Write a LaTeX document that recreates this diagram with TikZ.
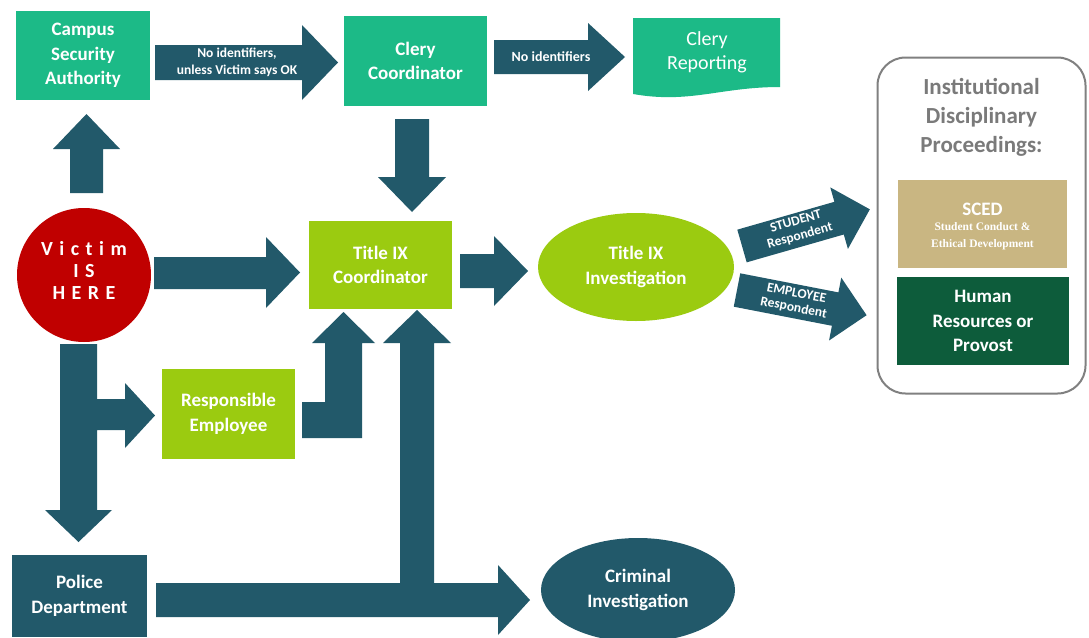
\documentclass[tikz,border=0pt]{standalone}
\usepackage{fontspec}
\setmainfont{Carlito}
\newfontfamily\serifb{Liberation Serif}
\usetikzlibrary{shapes.geometric}
\definecolor{tealc}{HTML}{1CBA87}
\definecolor{arrowc}{HTML}{22596A}
\definecolor{limec}{HTML}{9BCB10}
\definecolor{redc}{HTML}{C00000}
\definecolor{tanc}{HTML}{C9B682}
\definecolor{dgreen}{HTML}{0D5C3B}
\definecolor{grayb}{HTML}{808080}
\definecolor{grayt}{HTML}{7A7A7A}
\newcommand\rotarrow[6]{%
  \fill[arrowc,shift={(#1)},rotate=#2] (0,-#4) -- ({#3-#6},-#4) -- ({#3-#6},-#5) -- (#3,0)
     -- ({#3-#6},#5) -- ({#3-#6},#4) -- (0,#4) -- cycle;}
\newcommand\vk{\kern6.5pt}
\begin{document}
\begin{tikzpicture}[x=1pt,y=-1pt,
  bx/.style={inner sep=0pt, align=center, text=white, font=\fontsize{19}{24.5}\selectfont\bfseries},
  blk/.style={fill=arrowc},
  lbl/.style={inner sep=0pt, align=center, text=white}]
\fill[white] (0,0) rectangle (1089,637);
\useasboundingbox (0,0) rectangle (1089,637);

% ---- boxes ----
\node[bx,fill=tealc,minimum width=134pt,minimum height=89pt] (csa) at (83,55.5) {Campus\\Security\\Authority};
\node[bx,fill=tealc,minimum width=143pt,minimum height=90pt] (clery) at (415.5,61) {Clery\\Coordinator};
\fill[tealc] (633,18) -- (780,18) -- (780,87) .. controls (720,87) and (690,104) .. (633,94) -- cycle;
\node[bx,font=\fontsize{20}{24}\selectfont] (rep) at (707,52) {Clery\\Reporting};
\node[circle,fill=redc,minimum size=134pt,inner sep=0pt] (victim) at (84,275) {};
\node[bx,font=\fontsize{20}{22}\selectfont\bfseries] (victimt) at (84,270)
  {V\vk i\vk c\vk t\vk i\vk m\\I\vk S\\H\vk E\vk R\vk E};
\node[bx,fill=limec,minimum width=143pt,minimum height=88pt] (tix) at (380.5,265) {Title IX\\Coordinator};
\node[ellipse,bx,fill=limec,minimum width=196pt,minimum height=108pt] (inv) at (636,267) {Title IX\\Investigation};
\node[bx,fill=limec,minimum width=133pt,minimum height=90pt] (resp) at (228.5,414) {Responsible\\Employee};
\node[bx,fill=arrowc,minimum width=135pt,minimum height=82pt] (police) at (79.5,596) {Police\\Department};
\node[ellipse,bx,fill=arrowc,minimum width=194pt,minimum height=104pt] (crim) at (638,590) {Criminal\\Investigation};

% ---- institutional box ----
\node[draw=grayb,line width=2pt,rounded corners=28pt,minimum width=208pt,minimum height=336pt] (idp) at (981.5,225.5) {};
\node[align=center,text=grayt,font=\fontsize{23}{29}\selectfont\bfseries] (idpt) at (981.5,117) {Institutional\\Disciplinary\\Proceedings:};
\node[bx,fill=tanc,minimum width=169pt,minimum height=88pt] (sced) at (982.5,224) {};
\node[bx] (scedt) at (982.5,209) {SCED};
\node[lbl,font=\serifb\fontsize{11.5}{17.5}\selectfont\bfseries] (scedsub) at (982.5,236) {Student Conduct \&\\Ethical Development};
\node[bx,fill=dgreen,minimum width=172pt,minimum height=88pt] (hr) at (983,321) {Human\\Resources or\\Provost};

% ---- block arrows ----
\fill[blk] (155,45) -- (302,45) -- (302,25) -- (338,62.5) -- (302,100) -- (302,80) -- (155,80) -- cycle;
\fill[blk] (494,40) -- (588,40) -- (588,23) -- (625,57) -- (588,91) -- (588,74) -- (494,74) -- cycle;
\fill[blk] (70,193) -- (70,149) -- (53,149) -- (86.5,114) -- (120,149) -- (103,149) -- (103,193) -- cycle;
\fill[blk] (395,119) -- (429,119) -- (429,177) -- (446,177) -- (412,212) -- (378,177) -- (395,177) -- cycle;
\fill[blk] (154,257) -- (266,257) -- (266,237) -- (300,272.5) -- (266,308) -- (266,289) -- (154,289) -- cycle;
\fill[blk] (460,254) -- (494,254) -- (494,236) -- (528,271) -- (494,306) -- (494,288) -- (460,288) -- cycle;
\fill[blk] (60,344) -- (97,344) -- (97,399) -- (125,399) -- (125,383) -- (155,415.5) -- (125,448)
   -- (125,430) -- (97,430) -- (97,510) -- (112,510) -- (78.5,542) -- (45,510) -- (60,510) -- cycle;
\fill[blk] (302,402) -- (325,402) -- (325,343) -- (312,343) -- (343.5,312) -- (375,343) -- (362,343)
   -- (362,438) -- (302,438) -- cycle;
\fill[blk] (156,583) -- (400,583) -- (400,343) -- (383,343) -- (417,310) -- (451,343) -- (434,343)
   -- (434,583) -- (498,583) -- (498,565) -- (530,600) -- (498,635) -- (498,617) -- (156,617) -- cycle;
\rotarrow{742,246}{16}{133}{17}{32}{32}
\rotarrow{737,290}{-11}{132}{17}{32}{32}

% ---- arrow labels ----
\node[lbl,font=\fontsize{13.5}{17}\selectfont\bfseries] (lab1) at (237,62.5) {No identifiers,\\unless Victim says OK};
\node[lbl,font=\fontsize{14}{17}\selectfont\bfseries] (lab2) at (551,57) {No identifiers};
\node[lbl,rotate=16,font=\fontsize{13.5}{15}\selectfont\bfseries] (lab3) at (798,229) {STUDENT\\Respondent};
\node[lbl,rotate=-11,font=\fontsize{13.5}{15}\selectfont\bfseries] (lab4) at (795,301) {EMPLOYEE\\Respondent};
\end{tikzpicture}
\end{document}
